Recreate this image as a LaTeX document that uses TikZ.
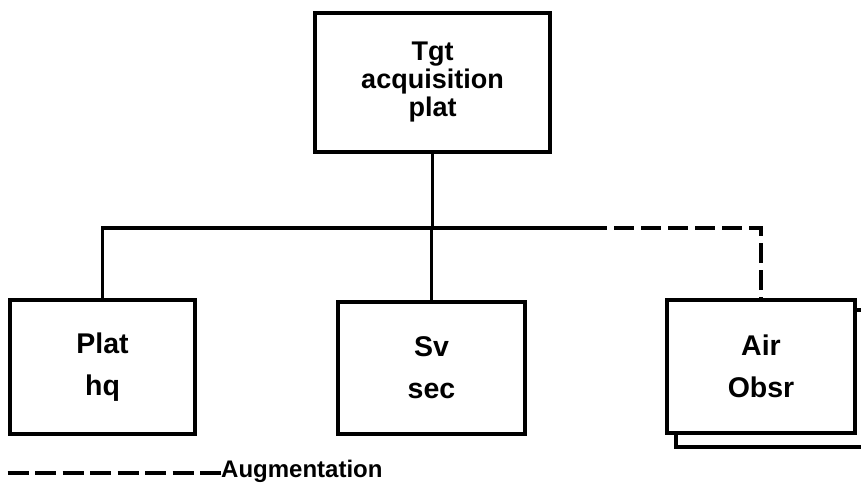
\documentclass[tikz,border=0pt]{standalone}
\usepackage{fontspec}
\setmainfont{Liberation Sans}
\begin{document}
\begin{tikzpicture}[x=1pt,y=-1pt,
  box/.style={draw, line width=3.4pt, fill=white, inner sep=0pt, align=center,
    font=\bfseries\fontsize{28.5}{42}\selectfont},
  link/.style={line width=3.4pt},
  aug/.style={line width=3.4pt, dash pattern=on 20pt off 7pt}]
\useasboundingbox (0,0) rectangle (861,483);
% top box
\node[box, minimum width=235pt, minimum height=139pt,
  font=\bfseries\fontsize{27}{28}\selectfont] (tgt) at (432.5,82.5) {Tgt\\acquisition\\plat};
% lower boxes
\node[box, minimum width=185pt, minimum height=134pt] (hq) at (102.5,367) {Plat\\hq};
\node[box, minimum width=187pt, minimum height=132pt] (sv) at (431.5,368) {Sv\\sec};
\node[box, minimum width=204pt, minimum height=137pt] (airback) at (778,378.5) {};
\node[box, minimum width=188pt, minimum height=133pt] (air) at (761,366.5) {Air\\Obsr};
% connectors
\coordinate (j) at (432.5,228);
\coordinate (d) at (587,228);
\draw[link] (tgt.south) -- (j);
\draw[link] (hq.north) |- (d);
\draw[link] (sv.north) -- (sv.north |- j);
\draw[aug] (d) -| (air.north);
% legend
\node[anchor=base west, inner sep=0pt, font=\bfseries\fontsize{24}{26}\selectfont] (leg) at (221,477) {Augmentation};
\coordinate (l1) at (7.5,473);
\draw[aug, dash pattern=on 21pt off 6.5pt] (l1) -- (l1 -| leg.west);
\end{tikzpicture}
\end{document}
